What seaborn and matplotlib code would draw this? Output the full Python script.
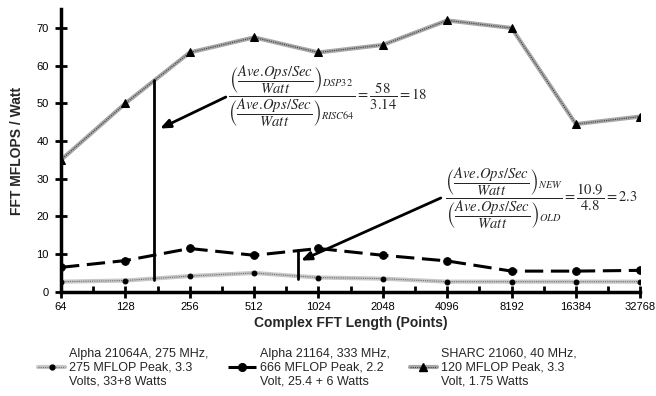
import matplotlib
matplotlib.use("Agg")
import matplotlib.pyplot as plt
from matplotlib.lines import Line2D
from matplotlib.ticker import MultipleLocator
import seaborn as sns
import pandas as pd

# data
fft_lengths = ["64", "128", "256", "512", "1024", "2048", "4096", "8192", "16384", "32768"]
alpha_21064a = [2.7, 3.0, 4.2, 5.0, 3.8, 3.5, 2.7, 2.7, 2.7, 2.7]
alpha_21164 = [6.5, 8.3, 11.5, 9.7, 11.5, 9.7, 8.2, 5.5, 5.5, 5.7]
sharc_21060 = [35, 50, 63.5, 67.5, 63.5, 65.5, 72, 70, 44.5, 46.5]

labels = ["Alpha 21064A, 275 MHz,\n275 MFLOP Peak, 3.3\nVolts, 33+8 Watts",
          "Alpha 21164, 333 MHz,\n666 MFLOP Peak, 2.2\nVolt, 25.4 + 6 Watts",
          "SHARC 21060, 40 MHz,\n120 MFLOP Peak, 3.3\nVolt, 1.75 Watts"]

pos = list(range(len(fft_lengths)))
df = pd.DataFrame({"pos": pos, "a64": alpha_21064a, "a164": alpha_21164, "sharc": sharc_21060})

sns.set_style("ticks")
plt.rcParams["font.family"] = ["Liberation Sans", "DejaVu Sans"]
plt.rcParams["mathtext.fontset"] = "stix"

fig = plt.figure(figsize=(6.56, 3.96), dpi=100)
ax = fig.add_axes([0.093, 0.263, 0.883, 0.714])
ax.set_axisbelow(False)

# Alpha 21064A: light grey band with dotted core
sns.lineplot(data=df, x="pos", y="a64", ax=ax, color="#c8c8c8", lw=3, zorder=2)
sns.lineplot(data=df, x="pos", y="a64", ax=ax, color="#707070", lw=0.8, ls=(0, (1, 1)),
             marker="o", markersize=3.5, markerfacecolor="black", markeredgecolor="black", zorder=3)
# Alpha 21164: black dashed with big dots
sns.lineplot(data=df, x="pos", y="a164", ax=ax, color="black", lw=2.2, ls=(0, (6, 2.5)),
             marker="o", markersize=5.5, markerfacecolor="black", markeredgecolor="black", zorder=3)
# SHARC: grey band with dark dotted core
sns.lineplot(data=df, x="pos", y="sharc", ax=ax, color="#a8a8a8", lw=3, zorder=2)
sns.lineplot(data=df, x="pos", y="sharc", ax=ax, color="#404040", lw=0.8, ls=(0, (1, 1)),
             marker="^", markersize=5.5, markerfacecolor="black", markeredgecolor="black", zorder=3)

ax.set_xlim(0, 9)
ax.set_ylim(0, 75)
ax.set_xticks(pos)
ax.set_xticklabels(fft_lengths, fontsize=8)
ax.xaxis.set_minor_locator(MultipleLocator(0.5))
ax.set_yticks(range(0, 80, 10))
ax.tick_params(axis="y", left=True, labelsize=8, direction="inout", length=8, width=2,
               pad=5, color="black", labelcolor="black")
ax.tick_params(axis="x", which="major", bottom=True, direction="inout", length=9, width=2,
               pad=3, color="black", labelcolor="black")
ax.tick_params(axis="x", which="minor", bottom=True, direction="in", length=4, width=2, color="black")
ax.set_xlabel("Complex FFT Length (Points)", fontsize=10, fontweight="bold", labelpad=3)
ax.set_ylabel("FFT MFLOPS / Watt", fontsize=10, fontweight="bold", labelpad=9)
for s in ["top", "right"]:
    ax.spines[s].set_visible(False)
for s in ["left", "bottom"]:
    ax.spines[s].set_linewidth(2.5)
    ax.spines[s].set_color("black")

# annotations
ax.plot([1.45, 1.45], [3.2, 56.2], color="black", lw=2, zorder=4)
ax.plot([3.69, 3.69], [3.4, 11.1], color="black", lw=2, zorder=4)
ax.annotate("", xy=(1.5, 43), xytext=(2.6, 52),
            arrowprops=dict(arrowstyle="-|>,head_length=0.6,head_width=0.25", color="black", lw=2))
ax.annotate("", xy=(3.69, 8), xytext=(5.94, 25.2),
            arrowprops=dict(arrowstyle="-|>,head_length=0.6,head_width=0.25", color="black", lw=2))

frac = r"\left(\dfrac{Ave{.}\!Ops/Sec}{Watt}\right)"
ax.text(2.6, 52, r"$\dfrac{%s_{DSP32}}{%s_{RISC64}}=\dfrac{58}{3.14}=18$" % (frac, frac),
        fontsize=10.5, ha="left", va="center")
ax.text(5.96, 24.8, r"$\dfrac{%s_{NEW}}{%s_{OLD}}=\dfrac{10.9}{4.8}=2.3$" % (frac, frac),
        fontsize=10.5, ha="left", va="center")

handles = [
    (Line2D([], [], color="#c8c8c8", lw=3),
     Line2D([], [], color="#707070", lw=0.8, ls=(0, (1, 1)), marker="o", markersize=3.5,
            markerfacecolor="black", markeredgecolor="black")),
    Line2D([], [], color="black", lw=2.2, ls=(0, (4, 1.5)), marker="o", markersize=5.5),
    (Line2D([], [], color="#a8a8a8", lw=3),
     Line2D([], [], color="#404040", lw=0.8, ls=(0, (1, 1)), marker="^", markersize=5.5,
            markerfacecolor="black", markeredgecolor="black")),
]
fig.legend(handles, labels, ncol=3, loc="upper left", bbox_to_anchor=(0.05, 0.135),
           frameon=False, fontsize=9, handlelength=2.2, handletextpad=0.3, columnspacing=1.6,
           borderaxespad=0, labelspacing=0)

fig.savefig("out.png", dpi=100)
